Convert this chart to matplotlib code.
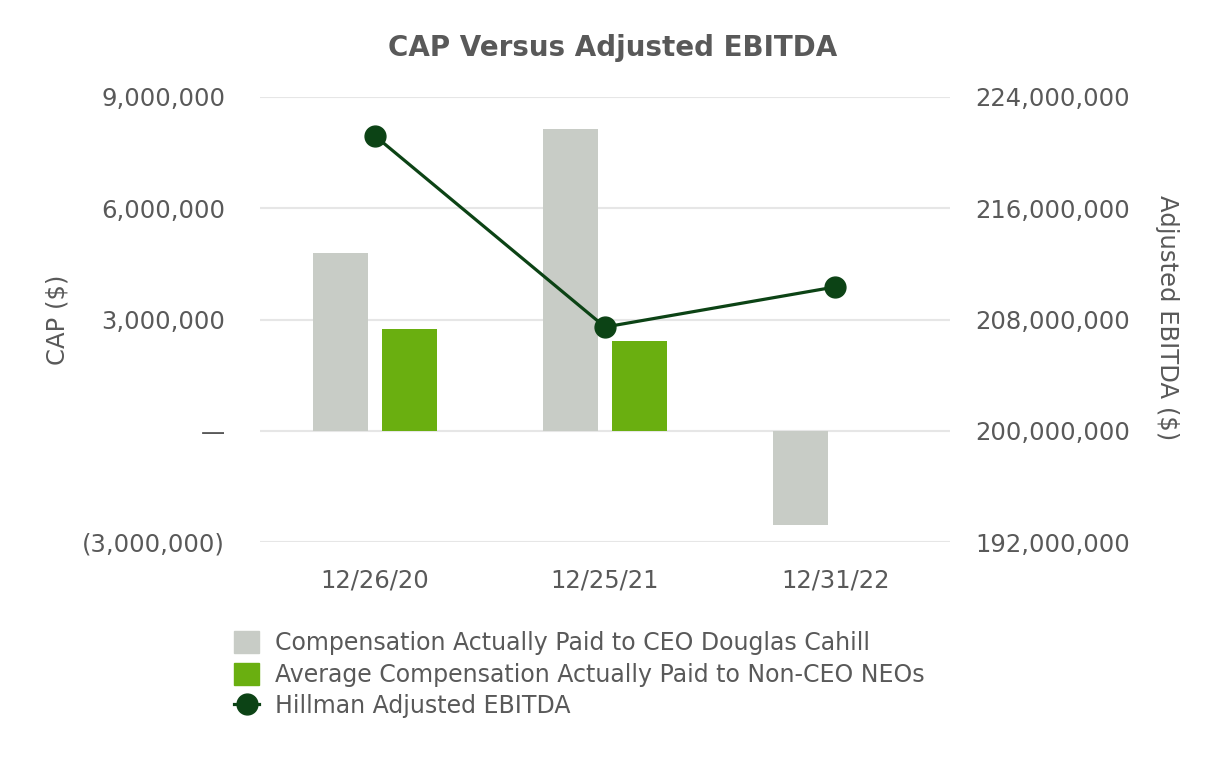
import numpy as np
import matplotlib
matplotlib.use('Agg')
import matplotlib.pyplot as plt
import matplotlib.ticker as mticker
from matplotlib.lines import Line2D
from matplotlib.patches import Patch

plt.rcParams['font.family'] = ['DejaVu Sans']

# data
dates = ['12/26/20', '12/25/21', '12/31/22']
ceo_cap = [4800000, 8150000, -2540000]
neo_cap = [2750000, 2410000, 0]
ebitda = [221200000, 207460000, 210340000]

grey = '#c8ccc6'
green = '#6aaf10'
dark = '#0c4315'
txt = '#595959'

fig = plt.figure(figsize=(12.26, 7.6), dpi=100)
ax = fig.add_axes([0.212, 0.2868, 0.563, 0.5856])
ax2 = ax.twinx()

x = np.arange(len(dates))
w = 0.24
off = 0.15
ax.bar(x - off, ceo_cap, w, color=grey, zorder=3)
neo_x = [xi + off for xi, v in zip(x, neo_cap) if v != 0]
neo_v = [v for v in neo_cap if v != 0]
ax.bar(neo_x, neo_v, w, color=green, zorder=3)

ax2.plot(x, ebitda, color=dark, lw=2.3, marker='o', ms=15, zorder=5)

ax.set_xlim(-0.5, 2.5)
ax.set_ylim(-3000000, 9000000)
ax2.set_ylim(192000000, 224000000)
ax.set_yticks([-3000000, 0, 3000000, 6000000, 9000000])
ax2.set_yticks([192000000, 200000000, 208000000, 216000000, 224000000])

def fmt_left(v, pos):
    if v == 0:
        return '\u2014'
    if v < 0:
        return '({:,.0f})'.format(-v)
    return '{:,.0f}'.format(v)

ax.yaxis.set_major_formatter(mticker.FuncFormatter(fmt_left))
ax2.yaxis.set_major_formatter(mticker.FuncFormatter(lambda v, p: '{:,.0f}'.format(v)))

ax.set_xticks(x)
ax.set_xticklabels(dates)
ax.grid(axis='y', color='#e6e6e6', lw=1.5, zorder=0)
ax.set_axisbelow(True)

for a in (ax, ax2):
    for s in a.spines.values():
        s.set_visible(False)
    a.tick_params(length=0, labelsize=17.5, labelcolor=txt)
ax.tick_params(axis='y', pad=25)
ax.tick_params(axis='x', pad=19)
ax2.tick_params(axis='y', pad=18)

fig.text(58 / 1226, 1 - 320 / 760, 'CAP ($)', rotation=90, ha='center', va='center',
         fontsize=17.5, color=txt)
fig.text(1167 / 1226, 1 - 318 / 760, 'Adjusted EBITDA ($)', rotation=270, ha='center',
         va='center', fontsize=17.5, color=txt)

fig.text(0.5, 0.937, 'CAP Versus Adjusted EBITDA', ha='center', va='center',
         fontsize=20, fontweight='bold', color=txt)

handles = [Patch(color=grey), Patch(color=green),
           Line2D([0], [0], color=dark, lw=2.3, marker='o', ms=15)]
labels = ['Compensation Actually Paid to CEO Douglas Cahill',
          'Average Compensation Actually Paid to Non-CEO NEOs',
          'Hillman Adjusted EBITDA']
leg = fig.legend(handles, labels, loc='upper left', bbox_to_anchor=(0.1835, 0.182),
                 frameon=False, fontsize=17, handlelength=1.06, handleheight=1.06,
                 handletextpad=0.65, labelspacing=0.32, borderaxespad=0)
for t in leg.get_texts():
    t.set_color(txt)

fig.savefig('out.png', dpi=100)
